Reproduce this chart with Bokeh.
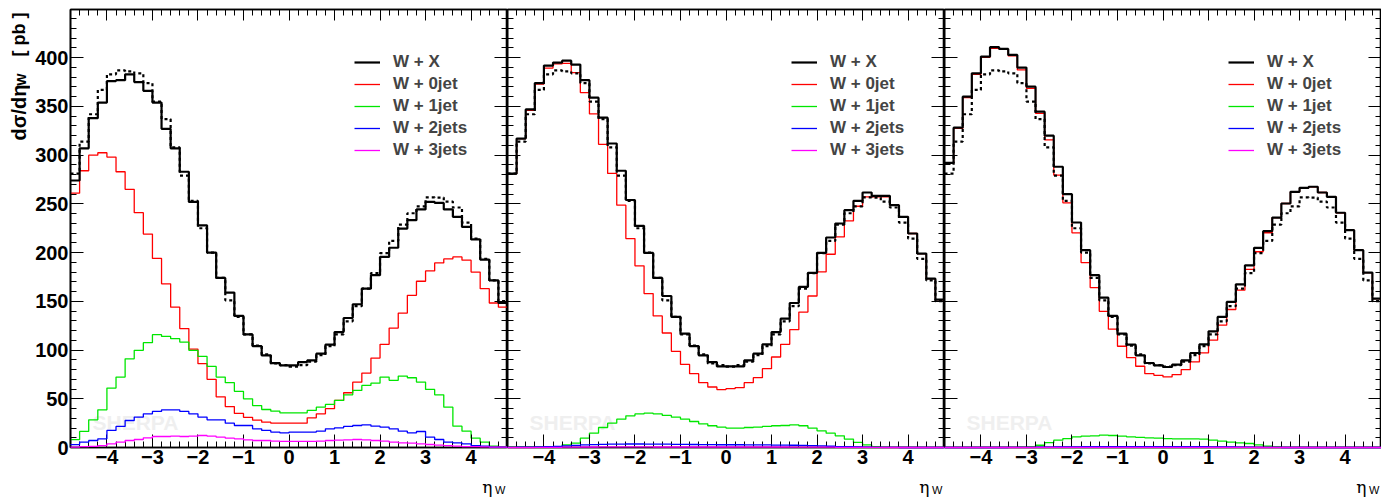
import numpy as np
from bokeh.plotting import figure
from bokeh.layouts import row, column
from bokeh.models import Range1d, FixedTicker, LinearAxis, Legend, LegendItem, Label
from bokeh.embed import file_html
from bokeh.resources import INLINE

# ---------------- data (48 bins of width 0.2 in eta_W, -4.8 .. 4.8) ----------------
bin_edges = [round(-4.8 + 0.2 * i, 2) for i in range(49)]
x_ticks = [-4, -3, -2, -1, 0, 1, 2, 3, 4]
y_ticks = [0, 50, 100, 150, 200, 250, 300, 350, 400]
legend_labels = ["W + X", "W + 0jet", "W + 1jet", "W + 2jets", "W + 3jets"]

# dotted reference W + X (same in all panels)
wx_ref = [281, 314, 342, 367, 383, 387, 386, 384, 374, 355, 337, 308, 279, 253, 225, 200,
          174, 151, 134, 116, 104.5, 95.5, 86.3, 84.5, 83, 84.5, 88, 94.8, 104, 116, 129.5, 145,
          163, 179, 199.5, 212, 228.8, 240.4, 247.5, 256.7, 256.5, 252.4, 246.3, 230.8, 214.4, 193.6,
          171.5, 150.3]

# panel 1
wx_1 = [274, 307, 338, 354, 376, 377, 383, 375, 366, 354, 327, 307, 283, 252, 228, 200,
        174, 159, 135, 116, 104, 94.5, 86.6, 84.3, 84.3, 87.7, 89.4, 96.3, 105.5, 118.5, 132.9, 147,
        163, 176.8, 195.6, 205, 224.7, 233.3, 244.3, 252.1, 251, 244.3, 236.7, 226.4, 213.5, 192.9,
        171.6, 148.3]
j0_1 = [261, 284, 300, 302.5, 298, 283, 265, 241, 219, 194, 168, 144, 122, 101, 86, 70,
        52, 42, 35, 31, 28, 26, 25, 25, 25, 25, 30.5, 34.6, 39.8, 48.3, 56.2, 67,
        76.4, 91.8, 105.9, 122.6, 138, 156.2, 170.6, 181.2, 189.4, 193.5, 195.6, 192.2, 180, 163,
        148.3, 144]
j1_1 = [8, 16.5, 28.4, 38.7, 61, 72.3, 91, 99.7, 107.6, 115.8, 114, 111.7, 108.2, 99.7, 93.5, 83.2,
        72.3, 66.5, 57.6, 50, 43, 39, 37.3, 35.6, 35.6, 35.6, 38, 41.4, 44.2, 48.3, 54.1, 58.6,
        63.7, 66, 72.3, 68.9, 73.3, 71.6, 67.1, 59.6, 54.1, 41.4, 21.9, 16.8, 9.6, 5.5, 1.4, 0.5]
j2_1 = [3, 5.5, 7.2, 8.9, 17.5, 21.6, 27.7, 31.2, 34.6, 37, 38.7, 38.7, 37, 34.6, 31.2, 28.4,
        28.4, 25, 22.6, 22.6, 19.2, 17.5, 15.8, 15, 15.8, 15.8, 15.8, 16.8, 19.2, 20.2, 21.6, 22.6,
        23.3, 21.9, 20.9, 19.2, 16.8, 15, 16.4, 10.6, 8.2, 5.5, 4.8, 3.8, 2, 1.4, 0.3, 0.3]
j3_1 = [0.3, 0.9, 1.2, 1.9, 3.8, 5.5, 7.2, 8.2, 9.9, 11.3, 11.3, 11.6, 11.3, 11.6, 12.3, 11.6,
        10.6, 9.6, 8.9, 7.9, 7.2, 7.2, 6.5, 6.2, 6.2, 6.2, 6.2, 6.5, 7.2, 7.5, 7.9, 8.2,
        7.9, 7.2, 6.5, 5.5, 4.8, 4.5, 3.8, 3.1, 2.4, 2.0, 1.4, 1.0, 1.0, 0.6, 0.3, 0.3]

# panel 2
wx_2 = [281, 317, 347, 374, 392, 395, 397, 393, 377, 359, 338.5, 312, 284, 254, 227.5, 199.7,
        174, 155.5, 134, 116.8, 104.1, 94.6, 87.7, 83.2, 83.2, 83.2, 89.4, 96.3, 105.9, 118.5, 132.2, 148.3,
        164.8, 179.2, 199.7, 215.5, 229.9, 243.6, 253.2, 261.7, 258.3, 258.3, 248.7, 236.7, 219.6, 199,
        173.3, 151.8]
j0_2 = [281, 317, 346, 373, 389.4, 393.6, 394.3, 384.7, 364.2, 342.3, 311.1, 281.3, 248.7, 214.4, 186.4, 158,
        135, 117.5, 98.7, 85.3, 75.8, 66.5, 62.1, 59.4, 60.4, 61.4, 66.5, 71.7, 80.9, 92.9, 105.9, 120.9,
        139, 155.5, 180.2, 198.3, 216.1, 232.5, 247.6, 257.2, 257.2, 257.2, 248.7, 236.7, 219.6, 199,
        173.3, 151.8]
j1_2 = [0.5, 0.8, 1, 1, 1, 1, 2.7, 4.5, 9.6, 14.7, 20.5, 25, 29.1, 32.5, 34.5, 35.2,
        34.5, 32.9, 31.1, 29.1, 26.7, 24.3, 22.3, 20.9, 19.9, 19.9, 20.5, 20.9, 21.6, 22.3, 22.6, 23.3,
        22.3, 19.9, 17.1, 14.7, 12, 8.6, 5.2, 2.7, 1, 0.3, 0.2, 0.1, 0, 0, 0, 0]
j2_2 = [0.2, 0.3, 0.4, 0.6, 0.8, 1.2, 1.6, 2.1, 2.6, 3.0, 3.2, 3.4, 3.5, 3.6, 3.6, 3.5,
        3.5, 3.4, 3.3, 3.2, 3.1, 3.0, 2.9, 2.8, 2.8, 2.8, 2.7, 2.7, 2.6, 2.5, 2.4, 2.3,
        2.1, 1.9, 1.6, 1.3, 1.0, 0.8, 0.5, 0.3, 0.2, 0.1, 0.1, 0, 0, 0, 0, 0]
j3_2 = [0, 0, 0, 0.1, 0.1, 0.2, 0.3, 0.4, 0.5, 0.5, 0.6, 0.6, 0.6, 0.6, 0.6, 0.6,
        0.5, 0.5, 0.5, 0.5, 0.5, 0.5, 0.5, 0.5, 0.5, 0.5, 0.5, 0.5, 0.5, 0.5, 0.5, 0.4,
        0.4, 0.4, 0.3, 0.3, 0.2, 0.2, 0.1, 0.1, 0.1, 0, 0, 0, 0, 0, 0, 0]

# panel 3
wx_3 = [292.2, 328.2, 360, 384, 401.2, 410.8, 409, 402.9, 389.9, 370.3, 344.6, 320, 288.1, 260, 230.9, 202.5,
        176.8, 153.8, 135, 116.8, 105.5, 94.6, 86.7, 84.3, 82.6, 85, 89.4, 97, 105.9, 119.2, 134, 149.4,
        167.5, 187, 204.9, 222, 236, 250.4, 262.4, 266.5, 267.6, 261.7, 257.3, 240.9, 223, 202.5,
        179.5, 152.8]
j0_3 = [291.5, 327.5, 359, 383, 400.5, 409.7, 408.7, 401.9, 387.5, 368.6, 343, 315.6, 279.5, 251.1, 220.3, 189.8,
        164.1, 139.8, 121.4, 103.9, 92.3, 83.4, 75.8, 74.1, 72.4, 74.8, 80, 87.8, 97.1, 110.1, 125.5, 141.6,
        161.5, 182.7, 200.9, 220.4, 236, 250.4, 262.4, 266.5, 267.6, 261.7, 257.3, 240.9, 223, 202.5,
        179.5, 152.8]
j1_3 = [0, 0, 0, 0, 0, 0, 0.1, 0.2, 0.3, 0.6, 2.3, 5, 7.5, 9.2, 10.9, 11.6,
        11.9, 12.6, 12.3, 11.6, 10.9, 10.3, 9.9, 9.6, 9.2, 8.9, 8.9, 8.9, 8.6, 7.5, 6.5, 5.5,
        4.8, 4.1, 2.7, 1.4, 0.7, 0.2, 0, 0, 0, 0, 0, 0, 0, 0, 0, 0]
j2_3 = [0, 0, 0, 0, 0, 0, 0, 0.1, 0.1, 0.2, 0.3, 0.4, 0.5, 0.6, 0.7, 0.8,
        0.8, 0.9, 0.9, 0.9, 0.9, 0.9, 0.9, 0.9, 0.9, 0.9, 0.8, 0.8, 0.8, 0.7, 0.6, 0.5,
        0.4, 0.3, 0.2, 0.1, 0.1, 0, 0, 0, 0, 0, 0, 0, 0, 0, 0, 0]
j3_3 = [0, 0, 0, 0, 0, 0, 0, 0, 0, 0, 0.1, 0.1, 0.1, 0.1, 0.1, 0.1,
        0.1, 0.1, 0.1, 0.1, 0.1, 0.1, 0.1, 0.1, 0.1, 0.1, 0.1, 0.1, 0.1, 0.1, 0.1, 0.1,
        0.1, 0.1, 0, 0, 0, 0, 0, 0, 0, 0, 0, 0, 0, 0, 0, 0]

panels = [
    (wx_1, j0_1, j1_1, j2_1, j3_1),
    (wx_2, j0_2, j1_2, j2_2, j3_2),
    (wx_3, j0_3, j1_3, j2_3, j3_3),
]

# ---------------- layout / styling ----------------
FONT = "Liberation Sans"
FRAME_W = 437
FRAME_H = 438
TITLE_W = 30          # narrow figure holding the rotated y title
LEFT_BORDER = 40      # room for the y tick labels of panel 1
TOP_BORDER = 9
BOTTOM_BORDER = 25
PANEL_H = FRAME_H + TOP_BORDER + BOTTOM_BORDER
FRAME_BOTTOM = TOP_BORDER + FRAME_H   # page y of the frames' bottom edge
STRIP_H = 499 - PANEL_H
TOTAL_W = TITLE_W + LEFT_BORDER + 3 * FRAME_W
colors = ["#ff0000", "#00e600", "#0000ff", "#ff00ff"]
minor_x = [round(-4.8 + 0.2 * i, 2) for i in range(49)]
minor_y = list(range(0, 450, 10))


def step_xy(vals):
    return bin_edges, list(vals) + [vals[-1]]


def bare_figure(w, h, top=0, bottom=0):
    f = figure(width=w, height=h, output_backend="svg", toolbar_location=None,
               x_axis_location=None, y_axis_location=None,
               x_range=Range1d(0, 1), y_range=Range1d(0, 1))
    f.min_border = 0
    f.min_border_left = 0
    f.min_border_right = 0
    f.min_border_top = top
    f.min_border_bottom = bottom
    f.outline_line_color = None
    f.xgrid.visible = False
    f.ygrid.visible = False
    return f


def style_axis(ax, show_labels, tick_len=13, minor_len=6):
    ax.major_tick_in = tick_len
    ax.major_tick_out = 0
    ax.minor_tick_in = minor_len
    ax.minor_tick_out = 0
    ax.axis_line_color = "black"
    ax.axis_line_width = 1.6
    ax.major_tick_line_color = "black"
    ax.minor_tick_line_color = "black"
    ax.major_tick_line_width = 1
    ax.minor_tick_line_width = 1
    ax.axis_label = None
    if show_labels:
        ax.major_label_text_font = FONT
        ax.major_label_text_font_style = "bold"
        ax.major_label_text_font_size = "20px"
        ax.major_label_text_color = "black"
        ax.major_label_standoff = 2
    else:
        ax.major_label_text_font_size = "0px"
        ax.major_label_text_color = None
        ax.major_label_standoff = 0


def make_panel(i, series):
    first = i == 0
    solid, j0, j1, j2, j3 = series
    p = figure(width=FRAME_W + (LEFT_BORDER if first else 0), height=PANEL_H,
               x_range=Range1d(-4.8, 4.8), y_range=Range1d(0, 449.5),
               output_backend="svg", toolbar_location=None,
               x_axis_location=None, y_axis_location=None)
    p.min_border_left = LEFT_BORDER if first else 0
    p.min_border_right = 0
    p.min_border_top = TOP_BORDER
    p.min_border_bottom = BOTTOM_BORDER
    p.xgrid.visible = False
    p.ygrid.visible = False
    p.outline_line_color = "black"
    p.outline_line_width = 1.6
    p.background_fill_color = "white"
    p.border_fill_color = "white"

    xt = FixedTicker(ticks=x_ticks, minor_ticks=minor_x)
    yt = FixedTicker(ticks=y_ticks, minor_ticks=minor_y)

    xb = LinearAxis(ticker=xt)
    style_axis(xb, True)
    p.add_layout(xb, "below")
    xa = LinearAxis(ticker=xt)
    style_axis(xa, False, 11, 6)
    p.add_layout(xa, "above")
    yl = LinearAxis(ticker=yt)
    style_axis(yl, first)
    p.add_layout(yl, "left")
    yr = LinearAxis(ticker=yt)
    style_axis(yr, False)
    p.add_layout(yr, "right")

    # watermark
    p.add_layout(Label(x=22, y=14, x_units="screen", y_units="screen", text="SHERPA",
                       text_font=FONT, text_font_style="bold", text_font_size="21px",
                       text_color="#efefef", level="underlay"))

    rends = []
    for vals, col in zip([j0, j1, j2, j3], colors):
        xs, ys = step_xy(vals)
        lvl = "overlay" if col in ("#0000ff", "#ff00ff") else "glyph"
        rends.append(p.step(xs, ys, mode="after", line_color=col, line_width=1.3, level=lvl))
    xs, ys = step_xy(wx_ref)
    p.step(xs, ys, mode="after", line_color="black", line_width=2.2, line_dash="3 3")
    xs, ys = step_xy(solid)
    r_wx = p.step(xs, ys, mode="after", line_color="black", line_width=2.2)

    items = [LegendItem(label=lab, renderers=[r]) for lab, r in zip(legend_labels, [r_wx] + rends)]
    leg = Legend(items=items, location=(284, 287), border_line_color=None, background_fill_alpha=0,
                 glyph_width=26, glyph_height=20, label_height=20, label_standoff=13, spacing=2,
                 padding=0, margin=0, label_text_font=FONT, label_text_font_style="bold",
                 label_text_font_size="17px")
    p.add_layout(leg)
    return p


# rotated y title:  d sigma / d eta_W  [ pb ]   (top aligned), positioned by text centres.
# Its frame is given the same borders as the panels, so it spans the same page rows.
ttl = bare_figure(TITLE_W, PANEL_H, top=TOP_BORDER, bottom=BOTTOM_BORDER)
for txt, cy, cx, size in [("dσ/dη", 112, 18, "20px"), ("W", 79, 21, "13px"), ("[ pb ]", 34, 18, "18px")]:
    ttl.add_layout(Label(x=cx, y=FRAME_BOTTOM - cy, x_units="screen", y_units="screen",
                         text=txt, angle=np.pi / 2, text_font=FONT, text_font_style="bold",
                         text_font_size=size, text_align="center", text_baseline="middle",
                         text_color="black"))

# strip below the panels with the x titles eta_W (right aligned under each panel)
strip = bare_figure(TOTAL_W, STRIP_H)
for k in range(3):
    right = TITLE_W + LEFT_BORDER + (k + 1) * FRAME_W
    strip.add_layout(Label(x=right - 15, y=STRIP_H / 2 - 1, x_units="screen", y_units="screen",
                           text="η", text_font="DejaVu Serif", text_font_size="17px", text_align="right",
                           text_baseline="middle", text_color="black"))
    strip.add_layout(Label(x=right - 2, y=STRIP_H / 2 - 4, x_units="screen", y_units="screen",
                           text="W", text_font=FONT, text_font_size="11px", text_align="right",
                           text_baseline="middle", text_color="black"))

figs = [make_panel(i, s) for i, s in enumerate(panels)]
layout = column(row(ttl, *figs, spacing=0), strip, spacing=0)
open("out.html", "w").write(file_html(layout, INLINE))
